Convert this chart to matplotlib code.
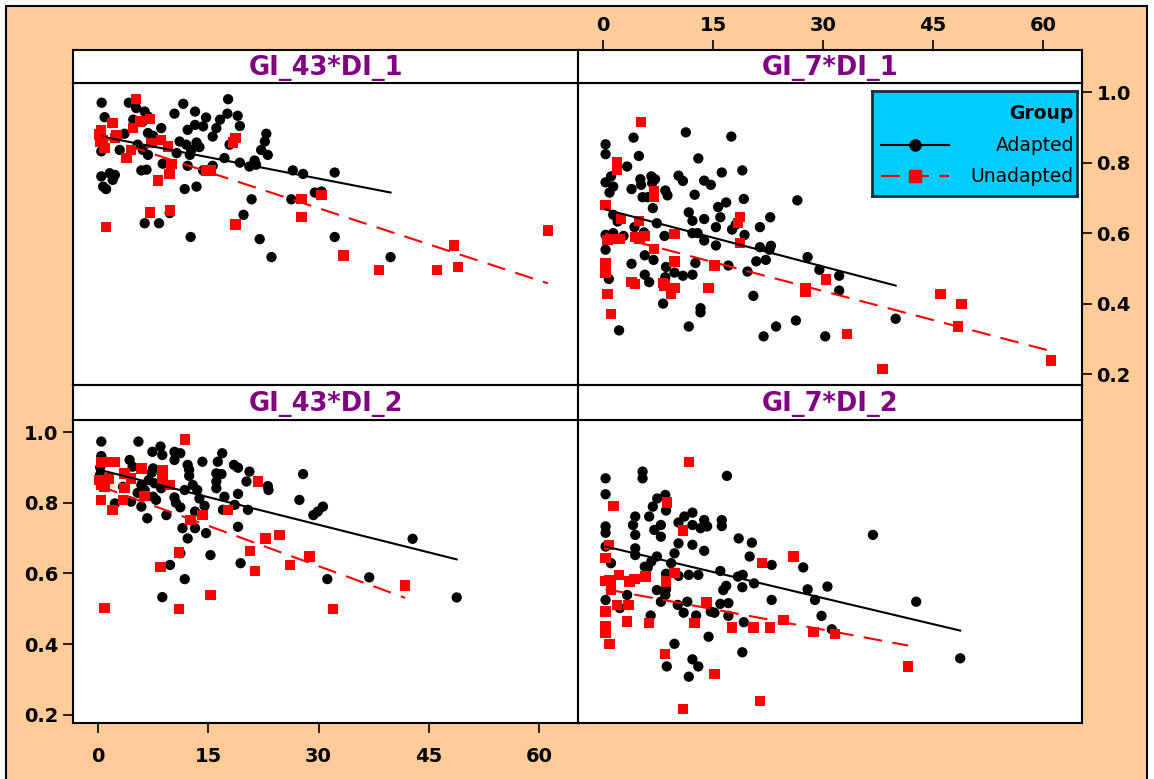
import numpy as np
import matplotlib
matplotlib.use("Agg")
import matplotlib.pyplot as plt
from matplotlib.patches import Rectangle

# panel titles (lattice strips)
panels = ["GI_43*DI_1", "GI_7*DI_1", "GI_43*DI_2", "GI_7*DI_2"]
groups = ["Adapted", "Unadapted"]

# GI_43*DI_1
ax_a = [0.5, 4.2, 5.2, 6.35, 6.8, 11.6, 17.7, 10.4, 13.2, 14.7, 17.6, 19.0, 0.9, 4.8, 6.1, 8.6, 12.2, 13.2, 14.3, 16.1,
        16.6, 19.3, 22.9, 3.6, 6.8, 7.5, 11.1, 12.0, 13.4, 13.8, 15.6, 22.7, 22.2, 23.1, 17.9, 0.45, 2.95, 5.4, 6.1, 6.8,
        10.7, 12.5, 12.7, 17.2, 19.3, 21.3, 20.6, 21.5, 26.5, 27.9, 32.2, 8.8, 12.2, 14.3, 15.6, 5.9, 6.6, 0.45, 1.6, 2.3,
        2.0, 0.7, 1.1, 11.8, 13.4, 29.5, 30.4, 20.9, 26.3, 9.75, 19.8, 6.35, 8.3, 12.6, 22.0, 23.6, 32.2, 39.8]
ay_a = [0.97, 0.97, 0.955, 0.945, 0.931, 0.967, 0.98, 0.939, 0.945, 0.928, 0.939, 0.933, 0.929, 0.922, 0.917, 0.898,
        0.893, 0.907, 0.903, 0.898, 0.922, 0.904, 0.882, 0.882, 0.884, 0.876, 0.86, 0.851, 0.857, 0.844, 0.874, 0.86,
        0.836, 0.822, 0.851, 0.832, 0.836, 0.851, 0.836, 0.822, 0.827, 0.822, 0.836, 0.813, 0.8, 0.806, 0.789, 0.794,
        0.778, 0.768, 0.772, 0.797, 0.791, 0.778, 0.791, 0.778, 0.78, 0.761, 0.77, 0.765, 0.751, 0.732, 0.725, 0.725,
        0.732, 0.715, 0.718, 0.696, 0.696, 0.657, 0.652, 0.628, 0.628, 0.589, 0.583, 0.532, 0.589, 0.532]
ux_a = [5.2, 0.45, 0.7, 0.9, 2.0, 2.5, 2.3, 4.8, 4.5, 5.7, 7.1, 7.3, 8.6, 9.5, 10.0, 3.9, 9.75, 8.2, 14.7, 15.4, 18.7,
        18.4, 7.1, 9.8, 18.7, 27.7, 30.4, 27.7, 1.1, 33.4, 38.2, 46.1, 48.4, 49.0, 61.2, 0.2, 0.3]
uy_a = [0.98, 0.893, 0.865, 0.841, 0.912, 0.879, 0.87, 0.898, 0.836, 0.917, 0.923, 0.855, 0.865, 0.846, 0.797, 0.813,
        0.768, 0.749, 0.778, 0.778, 0.87, 0.857, 0.659, 0.664, 0.624, 0.697, 0.709, 0.645, 0.617, 0.537, 0.496, 0.496,
        0.565, 0.503, 0.607, 0.88, 0.86]

# GI_7*DI_1
ax_b = [0.36, 0.36, 4.17, 4.9, 11.3, 17.5, 13.0, 3.3, 1.1, 0.36, 1.4, 0.9, 3.9, 5.1, 5.2, 6.6, 7.1, 6.7, 5.4, 6.1, 8.5,
        8.8, 10.3, 10.9, 13.8, 14.7, 16.2, 19.0, 12.5, 16.8, 15.7, 19.2, 26.5, 6.8, 11.7, 1.4, 2.0, 7.35, 12.2, 13.8,
        16.0, 15.4, 17.6, 18.1, 22.8, 21.4, 0.36, 1.4, 2.8, 4.3, 5.6, 8.4, 12.2, 12.9, 13.8, 15.4, 19.3, 21.4, 22.9, 22.7,
        0.36, 5.7, 6.9, 3.9, 8.6, 9.75, 10.9, 12.2, 12.6, 17.1, 19.7, 20.9, 22.2, 27.9, 29.5, 32.2, 32.2, 0.8, 5.7, 6.3,
        8.5, 8.2, 13.3, 13.3, 20.5, 11.7, 2.2, 23.6, 21.9, 26.3, 30.3, 39.9]
ay_b = [0.852, 0.824, 0.871, 0.819, 0.886, 0.874, 0.812, 0.789, 0.761, 0.744, 0.732, 0.715, 0.725, 0.753, 0.737, 0.761,
        0.753, 0.742, 0.702, 0.702, 0.721, 0.707, 0.763, 0.748, 0.749, 0.737, 0.772, 0.778, 0.709, 0.687, 0.674, 0.697,
        0.693, 0.671, 0.659, 0.652, 0.633, 0.628, 0.635, 0.64, 0.645, 0.617, 0.61, 0.624, 0.645, 0.617, 0.595, 0.6, 0.592,
        0.617, 0.602, 0.592, 0.6, 0.6, 0.579, 0.565, 0.595, 0.56, 0.564, 0.553, 0.553, 0.537, 0.524, 0.513, 0.504, 0.488,
        0.479, 0.482, 0.515, 0.508, 0.491, 0.52, 0.524, 0.532, 0.496, 0.479, 0.437, 0.47, 0.482, 0.461, 0.475, 0.4, 0.387,
        0.375, 0.422, 0.335, 0.324, 0.335, 0.307, 0.352, 0.307, 0.357]
ux_b = [5.2, 1.9, 1.9, 7.0, 7.0, 0.36, 2.5, 4.9, 18.7, 18.4, 9.75, 0.6, 1.1, 2.3, 4.4, 5.0, 5.7, 7.0, 18.7, 9.75, 15.2,
        0.36, 0.36, 0.36, 3.9, 4.4, 8.2, 8.4, 9.75, 9.3, 14.4, 0.6, 1.1, 27.6, 27.6, 30.4, 33.3, 38.1, 46.0, 48.9, 48.4,
        61.1]
uy_b = [0.915, 0.80, 0.78, 0.718, 0.704, 0.68, 0.64, 0.635, 0.645, 0.628, 0.597, 0.581, 0.583, 0.583, 0.589, 0.583,
        0.592, 0.555, 0.572, 0.52, 0.508, 0.515, 0.501, 0.488, 0.461, 0.455, 0.458, 0.451, 0.444, 0.427, 0.444, 0.427,
        0.37, 0.444, 0.434, 0.468, 0.314, 0.214, 0.427, 0.399, 0.335, 0.238]

# GI_43*DI_2
ax_c = [0.45, 5.5, 8.5, 7.4, 8.75, 10.4, 11.2, 10.4, 16.9, 14.2, 16.3, 18.5, 19.05, 20.6, 0.45, 4.3, 4.7, 7.5, 7.3,
        12.2, 12.4, 12.4, 16.1, 16.8, 16.1, 20.2, 23.1, 23.2, 27.9, 6.9, 7.7, 5.9, 6.35, 8.6, 11.8, 12.9, 13.5, 16.1, 3.4,
        5.4, 7.5, 7.9, 10.4, 13.8, 17.2, 19.05, 4.5, 2.3, 5.9, 10.6, 11.2, 14.5, 17.0, 18.6, 20.4, 27.4, 29.3, 29.9, 30.6,
        6.7, 9.3, 13.2, 11.5, 13.2, 14.7, 19.05, 12.2, 11.2, 15.3, 9.8, 19.4, 11.8, 31.2, 8.75, 42.8, 36.9, 48.8, 0.3, 0.3]
ay_c = [0.973, 0.973, 0.959, 0.944, 0.935, 0.944, 0.94, 0.921, 0.94, 0.916, 0.916, 0.907, 0.899, 0.888, 0.932, 0.921,
        0.902, 0.897, 0.885, 0.907, 0.893, 0.876, 0.883, 0.881, 0.86, 0.86, 0.847, 0.836, 0.881, 0.864, 0.855, 0.85,
        0.836, 0.841, 0.836, 0.85, 0.836, 0.841, 0.845, 0.828, 0.817, 0.808, 0.815, 0.812, 0.817, 0.825, 0.803, 0.798,
        0.789, 0.8, 0.787, 0.791, 0.78, 0.794, 0.78, 0.808, 0.765, 0.775, 0.789, 0.756, 0.765, 0.775, 0.728, 0.728, 0.714,
        0.732, 0.699, 0.657, 0.652, 0.624, 0.629, 0.584, 0.584, 0.533, 0.698, 0.589, 0.532, 0.90, 0.88]
ux_c = [11.8, 0.45, 1.1, 2.3, 0.2, 0.45, 0.9, 1.5, 3.6, 4.5, 5.9, 8.75, 8.75, 9.8, 3.6, 6.35, 0.45, 3.4, 2.0, 12.6, 14.2,
        17.7, 21.8, 22.8, 24.7, 20.7, 11.0, 28.8, 26.1, 21.4, 8.5, 15.3, 0.9, 11.0, 32.0, 41.8]
uy_c = [0.979, 0.916, 0.916, 0.916, 0.864, 0.85, 0.845, 0.869, 0.883, 0.869, 0.897, 0.893, 0.864, 0.85, 0.841, 0.819,
        0.808, 0.808, 0.78, 0.751, 0.765, 0.78, 0.86, 0.699, 0.709, 0.664, 0.659, 0.648, 0.624, 0.607, 0.619, 0.539,
        0.503, 0.499, 0.499, 0.566]

# GI_7*DI_2
ax_d = [0.36, 0.36, 5.4, 5.4, 16.9, 8.5, 7.4, 6.8, 8.6, 4.4, 6.3, 4.1, 7.9, 7.0, 7.9, 4.4, 11.1, 12.2, 10.3, 12.2, 13.8,
        13.3, 14.2, 16.2, 16.2, 0.36, 0.36, 0.36, 1.1, 4.4, 4.4, 7.35, 6.6, 6.1, 5.7, 9.3, 9.75, 10.3, 12.2, 13.8, 18.5,
        20.3, 20.0, 23.0, 27.3, 16.0, 18.4, 19.05, 19.0, 20.6, 16.4, 16.8, 8.6, 10.3, 11.7, 13.0, 7.35, 8.6, 7.9, 8.5,
        3.3, 0.36, 2.3, 6.5, 10.2, 11.5, 11.0, 12.7, 14.7, 15.2, 16.0, 17.1, 17.1, 19.2, 23.0, 27.9, 30.6, 28.9, 29.8,
        31.2, 14.4, 9.75, 19.0, 12.2, 13.0, 8.7, 11.7, 36.8, 42.7, 48.7]
ay_d = [0.869, 0.824, 0.888, 0.869, 0.876, 0.822, 0.812, 0.789, 0.778, 0.761, 0.761, 0.737, 0.737, 0.723, 0.704, 0.709,
        0.761, 0.772, 0.744, 0.737, 0.751, 0.728, 0.733, 0.751, 0.734, 0.733, 0.715, 0.676, 0.629, 0.671, 0.652, 0.648,
        0.634, 0.617, 0.619, 0.629, 0.657, 0.685, 0.681, 0.664, 0.699, 0.687, 0.648, 0.624, 0.617, 0.607, 0.591, 0.596,
        0.561, 0.572, 0.553, 0.565, 0.599, 0.593, 0.596, 0.596, 0.553, 0.555, 0.52, 0.539, 0.539, 0.525, 0.502, 0.481,
        0.511, 0.52, 0.489, 0.481, 0.492, 0.489, 0.514, 0.516, 0.48, 0.462, 0.525, 0.555, 0.563, 0.525, 0.48, 0.442,
        0.421, 0.401, 0.377, 0.357, 0.337, 0.337, 0.308, 0.709, 0.52, 0.36]
ux_d = [11.7, 1.45, 8.7, 10.9, 0.8, 0.36, 21.7, 26.0, 9.75, 2.2, 0.36, 0.9, 1.1, 1.1, 3.6, 4.3, 5.8, 8.6, 1.95, 3.5,
        14.1, 0.36, 3.3, 6.3, 12.5, 0.36, 0.36, 0.9, 17.6, 20.5, 22.8, 24.6, 28.7, 31.6, 8.5, 15.2, 21.4, 10.9, 41.6]
uy_d = [0.916, 0.791, 0.801, 0.721, 0.681, 0.643, 0.629, 0.648, 0.602, 0.596, 0.579, 0.582, 0.572, 0.555, 0.577, 0.584,
        0.591, 0.577, 0.511, 0.511, 0.52, 0.492, 0.464, 0.459, 0.459, 0.452, 0.431, 0.401, 0.447, 0.447, 0.447, 0.469,
        0.434, 0.429, 0.372, 0.315, 0.24, 0.217, 0.337]

# fitted lines: intercept, slope (adapted, unadapted)
fit_adapted = [(0.876, -0.00404), (0.669, -0.00546), (0.894, -0.00521), (0.678, -0.00492)]
fit_unadapted = [(0.876, -0.00684), (0.600, -0.00548), (0.849, -0.00761), (0.557, -0.00387)]

xticks = [0, 15, 30, 45, 60]
yticks = [0.2, 0.4, 0.6, 0.8, 1.0]

adapted = [(ax_a, ay_a), (ax_b, ay_b), (ax_c, ay_c), (ax_d, ay_d)]
unadapted = [(ux_a, uy_a), (ux_b, uy_b), (ux_c, uy_c), (ux_d, uy_d)]

PEACH = "#FFCC99"
PURPLE = "#800080"
DASH = (0, (9, 5))

W, H = 1154, 779
fig = plt.figure(figsize=(W / 100, H / 100), dpi=100)
fig.patch.set_facecolor("white")
fig.patches.append(Rectangle((6 / W, -0.01), 1141 / W, 1 - 6 / H + 0.01, transform=fig.transFigure,
                             facecolor=PEACH, edgecolor="black", lw=1.5, zorder=-10))

def fx(px): return px / W
def fy(py): return 1 - py / H

cols = [(73, 578), (578, 1082)]
rows = [(83, 385, 50, (0.169, 1.026)), (420, 723, 385, (0.177, 1.034))]

tick_kw = dict(length=7.5, width=1.2, labelsize=14, color="black")

for i, title in enumerate(panels):
    r, c = divmod(i, 2)
    x0, x1 = cols[c]
    top, bot, strip_top, ylim = rows[r]
    ax = fig.add_axes([fx(x0), fy(bot), fx(x1 - x0), (bot - top) / H])
    sax = fig.add_axes([fx(x0), fy(top), fx(x1 - x0), (top - strip_top) / H])

    xs, ys = adapted[i]
    ux, uy = unadapted[i]
    ax.scatter(xs, ys, s=55, marker="o", color="black", edgecolors="none", zorder=3)
    ax.scatter(ux, uy, s=56, marker="s", color="red", edgecolors="none", zorder=4)

    b0, b1 = fit_adapted[i]
    xx = np.array([min(xs), max(xs)])
    ax.plot(xx, b0 + b1 * xx, color="black", lw=1.5, zorder=5)
    b0, b1 = fit_unadapted[i]
    xx = np.array([min(ux), max(ux)])
    ax.plot(xx, b0 + b1 * xx, color="red", lw=1.5, linestyle=DASH, zorder=5)

    ax.set_xlim(-3.4, 65.3)
    ax.set_ylim(*ylim)
    ax.set_xticks(xticks)
    ax.set_yticks(yticks)
    ax.tick_params(axis="both", which="both", direction="out", **tick_kw)
    ax.tick_params(bottom=False, labelbottom=False, left=False, labelleft=False)
    for sp in ax.spines.values():
        sp.set_linewidth(1.5)

    sax.set_xlim(-3.4, 65.3)
    sax.set_yticks([])
    sax.set_xticks(xticks)
    sax.tick_params(bottom=False, labelbottom=False, **tick_kw)
    for sp in sax.spines.values():
        sp.set_linewidth(1.5)
    sax.text(0.5, 0.45, title, transform=sax.transAxes, ha="center", va="center",
             color=PURPLE, fontsize=18.5, fontweight="bold")

    # alternating lattice axes
    if i == 1:
        sax.tick_params(top=True, labeltop=True, pad=3)
        ax.yaxis.tick_right()
        ax.tick_params(right=True, labelright=True, pad=3)
    if i == 2:
        ax.tick_params(left=True, labelleft=True, bottom=True, labelbottom=True)
        ax.tick_params(axis="x", pad=10)
        ax.tick_params(axis="y", pad=3)
    for lab in sax.get_xticklabels() + ax.get_xticklabels() + ax.get_yticklabels():
        lab.set_fontweight("bold")

# legend box
lg = fig.add_axes([fx(872), fy(196), fx(205), 105 / H])
lg.set_facecolor("#00CCFF")
lg.set_xlim(0, 1)
lg.set_ylim(0, 1)
lg.set_xticks([])
lg.set_yticks([])
for sp in lg.spines.values():
    sp.set_linewidth(2)
    sp.set_color("#10303a")
lg.text(0.985, 0.79, "Group", ha="right", va="center", fontsize=13.5, fontweight="bold")
lg.plot([0.045, 0.375], [0.485, 0.485], color="black", lw=1.5)
lg.plot([0.21], [0.485], marker="o", color="black", markersize=8)
lg.text(0.985, 0.485, groups[0], ha="right", va="center", fontsize=13.5)
lg.plot([0.045, 0.375], [0.19, 0.19], color="red", lw=1.5, linestyle=DASH)
lg.plot([0.21], [0.19], marker="s", color="red", markersize=8)
lg.text(0.985, 0.19, groups[1], ha="right", va="center", fontsize=13.5)

fig.savefig("out.png", dpi=100, facecolor=fig.get_facecolor())
